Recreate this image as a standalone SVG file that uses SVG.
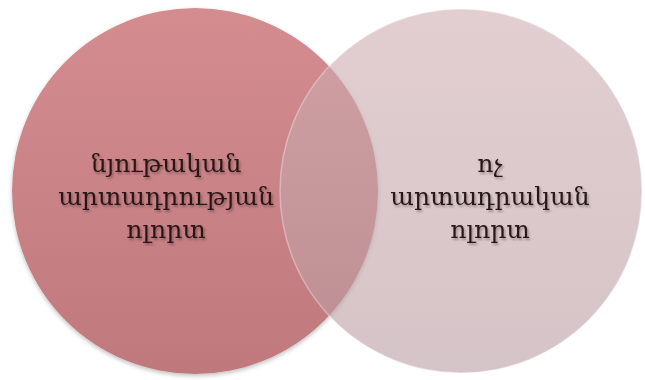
<svg xmlns="http://www.w3.org/2000/svg" width="645" height="380" viewBox="0 0 645 380">
<defs>
<linearGradient id="gl" x1="0" y1="0" x2="0" y2="1">
<stop offset="0" stop-color="#d48c8f"/>
<stop offset="1" stop-color="#bf797d"/>
</linearGradient>
<linearGradient id="gr" x1="0" y1="0" x2="0" y2="1">
<stop offset="0" stop-color="#cfaeb2"/>
<stop offset="1" stop-color="#b99ca1"/>
</linearGradient>
<filter id="sh" x="-10%" y="-10%" width="120%" height="130%">
<feDropShadow dx="1.5" dy="2" stdDeviation="1.2" flood-color="#000" flood-opacity="0.3"/>
</filter>
<filter id="cs" x="-10%" y="-10%" width="120%" height="120%">
<feDropShadow dx="0" dy="2" stdDeviation="2" flood-color="#000" flood-opacity="0.25"/>
</filter>
</defs>
<style>
.t{font-family:"DejaVu Serif","DejaVu Sans",serif;font-size:25px;fill:#2a1718;text-anchor:middle;filter:url(#sh)}
</style>
<rect width="645" height="380" fill="#ffffff"/>
<g id="left">
<ellipse cx="195" cy="191" rx="183" ry="183" fill="url(#gl)" filter="url(#cs)"/>
</g>
<g id="right">
<ellipse cx="461" cy="191" rx="181" ry="182" fill="url(#gr)" fill-opacity="0.6" stroke="#ffffff" stroke-opacity="0.35" stroke-width="1.5"/>
</g>
<g id="labels">
<text class="t" x="166" y="172">նյութական</text>
<text class="t" x="166" y="205">արտադրության</text>
<text class="t" x="166" y="238">ոլորտ</text>
<text class="t" x="490" y="172">ոչ</text>
<text class="t" x="490" y="205">արտադրական</text>
<text class="t" x="490" y="238">ոլորտ</text>
</g>
<g id="connectors"/>
</svg>
